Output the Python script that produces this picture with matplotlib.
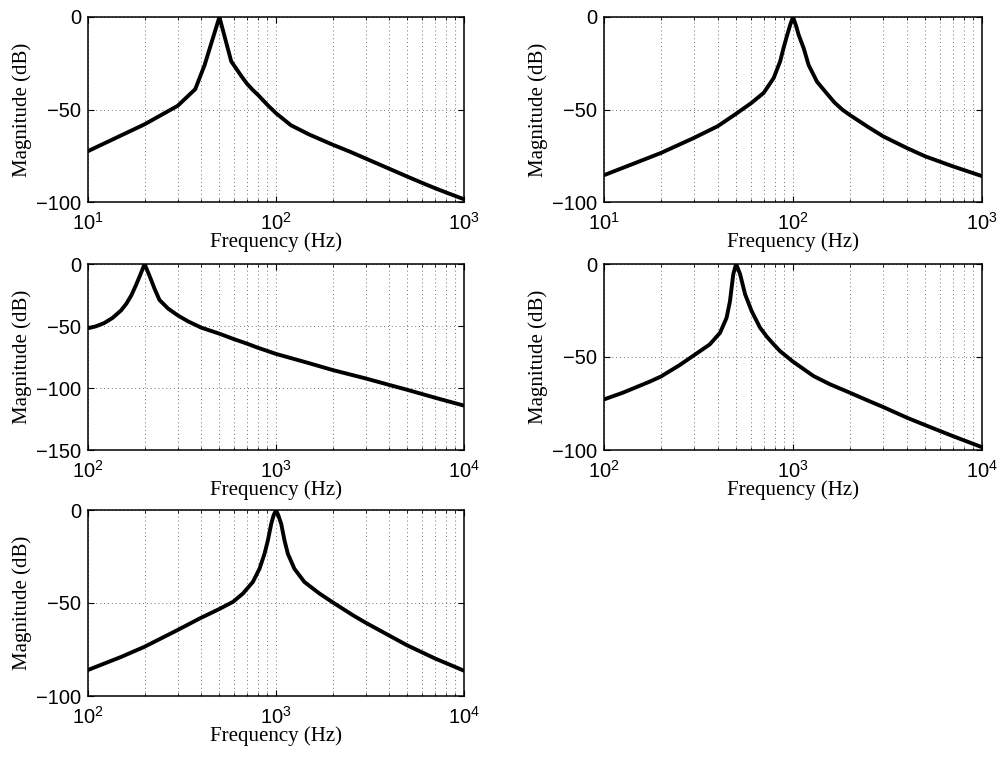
import matplotlib
matplotlib.use("Agg")
import matplotlib.pyplot as plt
from matplotlib.ticker import LogLocator, FixedLocator

# ---- data ----
f1 = [10, 20, 30, 37.2, 41.7, 50, 57.8, 62, 66, 70, 75, 80, 90, 100, 120, 150, 200, 250, 300, 400, 500, 600, 700, 800, 1000]
m1 = [-72.5, -58, -48, -39, -26, 0, -24, -28.5, -32.5, -36, -39.3, -42, -47.5, -52, -58.5, -63.5, -69, -73, -76.5, -82, -86.3, -89.7, -92.5, -94.8, -98.5]

f2 = [10, 15, 20, 30, 40, 50, 60, 70, 79, 85.5, 89, 93, 96.5, 100, 104, 107, 114, 121, 134, 150, 165, 182, 200, 250, 300, 400, 500, 700, 1000]
m2 = [-85.5, -78.5, -73.5, -65.3, -59, -52.3, -46.6, -41, -33, -24, -17, -10, -4.5, 0, -5, -9.5, -17, -26, -35, -41, -46, -50, -53, -59.5, -64.5, -70.8, -75.3, -80.7, -86]

f3 = [100, 110, 122, 135, 150, 160, 170, 180, 190, 200, 213, 226, 240, 267, 300, 340, 400, 500, 600, 700, 800, 1000, 1500, 2000, 3000, 4000, 5000, 7000, 10000]
m3 = [-51.8, -50.3, -47.6, -43.5, -37.4, -32, -25.3, -17, -8.5, 0, -10, -20, -29, -36, -41.4, -46.2, -51.3, -56.2, -60.7, -64.2, -67.5, -72.5, -80, -85.5, -92.3, -97.5, -101.5, -107.8, -114.2]

f4 = [100, 125, 150, 175, 200, 250, 300, 363, 411, 445, 464, 483, 500, 525, 558, 604, 669, 730, 787, 853, 1000, 1282, 1571, 2000, 2500, 3000, 4000, 5000, 7000, 10000]
m4 = [-72.8, -69.3, -66, -63.2, -60.5, -54.5, -49, -43.2, -37, -29, -20, -5.5, 0, -5.5, -16.3, -25.3, -34.2, -39.3, -43, -46.8, -52.5, -60.2, -64.7, -69.2, -73.5, -76.9, -82.6, -86.6, -92.5, -98.5]

f5 = [100, 150, 200, 300, 393, 500, 590, 667, 753, 817, 869, 905, 943, 970, 1000, 1030, 1066, 1110, 1156, 1253, 1416, 1702, 2000, 2558, 3000, 4000, 5000, 7000, 10000]
m5 = [-86, -79, -73.5, -64.5, -58.3, -53.2, -49.4, -44.9, -38.7, -31.6, -23.5, -16.4, -7.5, -3, 0, -3, -7.5, -16.4, -23.5, -31.6, -38.7, -44.9, -49.6, -56.5, -60.6, -67.5, -72.8, -79.8, -86.4]

xlims = [(10, 1000), (10, 1000), (100, 10000), (100, 10000), (100, 10000)]
ylims = [(-100, 0), (-100, 0), (-150, 0), (-100, 0), (-100, 0)]
yticks = [[-100, -50, 0], [-100, -50, 0], [-150, -100, -50, 0], [-100, -50, 0], [-100, -50, 0]]
freqs = [f1, f2, f3, f4, f5]
mags = [m1, m2, m3, m4, m5]
xlabel_txt = "Frequency (Hz)"
ylabel_txt = "Magnitude (dB)"

plt.rcParams['font.family'] = ['Liberation Sans', 'DejaVu Sans']
plt.rcParams['axes.unicode_minus'] = True

W, H = 1000, 763
fig = plt.figure(figsize=(W / 100, H / 100), dpi=100)

def rect(l, r, t, b):
    return [l / W, 1 - b / H, (r - l) / W, (b - t) / H]

rects = [
    rect(88, 464, 17, 202),
    rect(604, 982, 17, 202),
    rect(88, 464, 264, 450),
    rect(604, 982, 264, 450),
    rect(88, 464, 510, 696),
]

for i in range(5):
    ax = fig.add_axes(rects[i])
    ax.semilogx(freqs[i], mags[i], color='black', lw=2.8, solid_joinstyle='round', solid_capstyle='round')
    ax.set_xlim(*xlims[i])
    ax.set_ylim(*ylims[i])
    ax.yaxis.set_major_locator(FixedLocator(yticks[i]))
    ax.xaxis.set_major_locator(LogLocator(base=10, numticks=10))
    ax.xaxis.set_minor_locator(LogLocator(base=10, subs=range(2, 10), numticks=20))
    ax.grid(True, which='major', axis='both', linestyle=(0, (1, 3)), color='0.45', lw=0.7)
    ax.grid(True, which='minor', axis='x', linestyle=(0, (1, 3)), color='0.45', lw=0.7)
    ax.tick_params(which='both', direction='in', top=True, right=True, labelsize=14.5, colors='black')
    ax.tick_params(which='major', length=4, width=0.8)
    ax.tick_params(which='minor', length=2.5, width=0.6)
    ax.tick_params(axis='x', pad=7)
    ax.tick_params(axis='y', pad=5)
    for s in ax.spines.values():
        s.set_linewidth(1.1)
    ax.set_xlabel(xlabel_txt, fontfamily='Liberation Serif', fontsize=15, labelpad=-1)
    ax.set_ylabel(ylabel_txt, fontfamily='Liberation Serif', fontsize=15, labelpad=3)

fig.savefig("out.png", dpi=100, facecolor='white')
